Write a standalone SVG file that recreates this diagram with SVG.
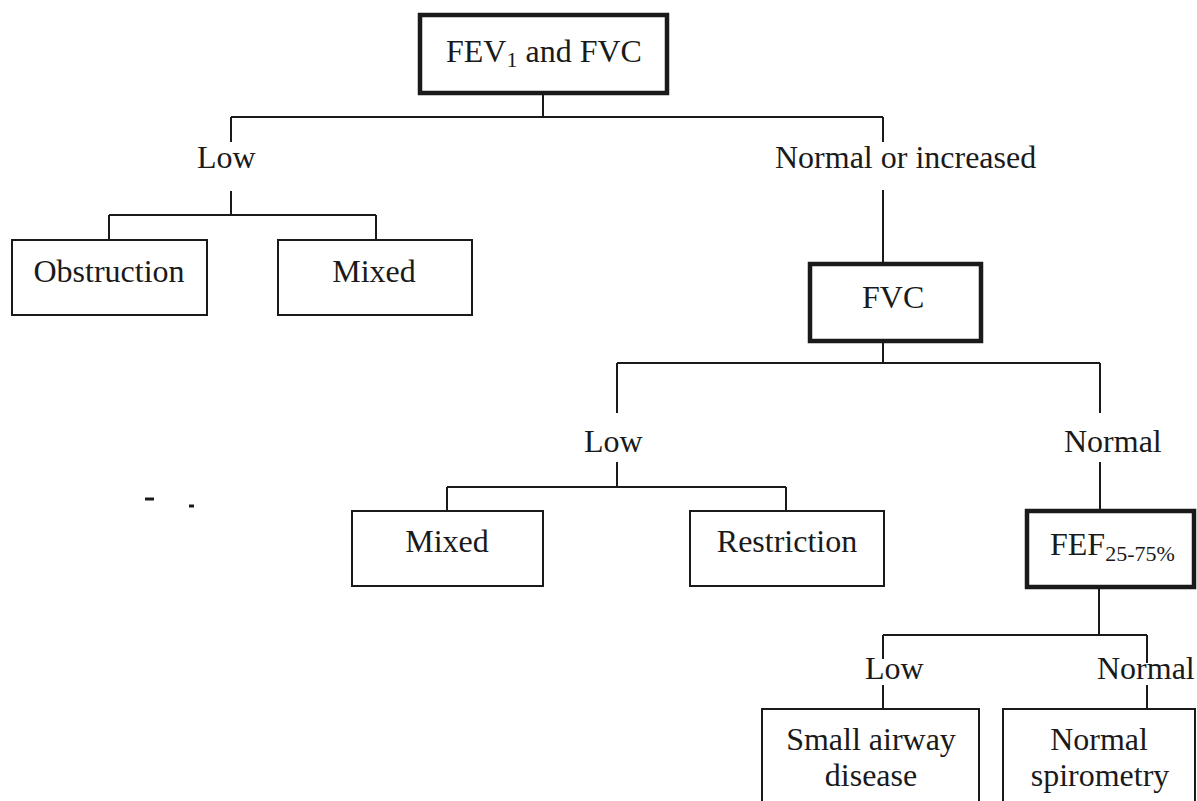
<svg xmlns="http://www.w3.org/2000/svg" width="1197" height="801" viewBox="0 0 1197 801">
<style>
  .bg { fill: #ffffff; }
  .box { fill: #ffffff; stroke: #1a1a1a; stroke-width: 2; }
  .thick { fill: #ffffff; stroke: #1a1a1a; stroke-width: 4.5; }
  .line { fill: none; stroke: #1a1a1a; stroke-width: 2; }
  text { font-family: 'Liberation Serif', 'DejaVu Serif', 'Times New Roman', serif; font-size: 32px; fill: #1a1a1a; }
  .c { text-anchor: middle; }
  .sub { font-size: 22px; }
</style>
<rect class="bg" x="0" y="0" width="1197" height="801"/>

<g id="connectors">
  <path class="line" d="M543,93 V117 M231,117 H883 M231,117 V142 M231,191 V215 M109,215 H376 M109,215 V240 M376,215 V240"/>
  <path class="line" d="M883,117 V142 M883,190 V264 M883,341 V363 M617,363 H1100 M617,363 V413 M617,462 V487 M447,487 H786 M447,487 V511 M786,487 V511"/>
  <path class="line" d="M1100,363 V413 M1100,462 V511 M1099,587 V635 M883,635 H1147 M883,635 V659 M1147,635 V663 M883,685 V709 M1147,685 V709"/>
  <g id="edge-labels">
    <text x="197" y="168" font-family="Liberation Serif">Low</text>
    <text x="775" y="168" font-family="Liberation Serif">Normal or increased</text>
    <text x="584" y="452" font-family="Liberation Serif">Low</text>
    <text x="1064" y="452" font-family="Liberation Serif">Normal</text>
    <text x="865" y="679" font-family="Liberation Serif">Low</text>
    <text x="1097" y="679" font-family="Liberation Serif">Normal</text>
  </g>
</g>

<g id="node-fev1-fvc">
  <rect class="thick" x="420" y="15" width="247" height="78"/>
  <text x="446" y="62">FEV<tspan class="sub" dy="5">1</tspan><tspan dy="-5"> and FVC</tspan></text>
</g>

<g id="node-obstruction">
  <rect class="box" x="12" y="240" width="195" height="75"/>
  <text class="c" x="109" y="282">Obstruction</text>
</g>

<g id="node-mixed-1">
  <rect class="box" x="278" y="240" width="194" height="75"/>
  <text class="c" x="374" y="282">Mixed</text>
</g>

<g id="node-fvc">
  <rect class="thick" x="810" y="264" width="171" height="77"/>
  <text x="862" y="308">FVC</text>
</g>

<g id="node-mixed-2">
  <rect class="box" x="352" y="511" width="191" height="75"/>
  <text class="c" x="447" y="552">Mixed</text>
</g>

<g id="node-restriction">
  <rect class="box" x="690" y="511" width="194" height="75"/>
  <text class="c" x="787" y="552">Restriction</text>
</g>

<g id="node-fef">
  <rect class="thick" x="1027" y="511" width="167" height="76"/>
  <text x="1050" y="555">FEF<tspan class="sub" dy="6">25-75%</tspan></text>
</g>

<g id="node-small-airway">
  <rect class="box" x="762" y="709" width="217" height="110"/>
  <text class="c" x="871" y="750">Small airway</text>
  <text class="c" x="871" y="786">disease</text>
</g>

<g id="node-normal-spirometry">
  <rect class="box" x="1003" y="709" width="192" height="110"/>
  <text class="c" x="1099" y="750">Normal</text>
  <text class="c" x="1100" y="786">spirometry</text>
</g>

<g id="stray-marks">
  <rect x="145" y="497.5" width="9" height="3" fill="#1a1a1a"/>
  <rect x="189" y="504.5" width="5" height="3" fill="#1a1a1a"/>
</g>
</svg>
